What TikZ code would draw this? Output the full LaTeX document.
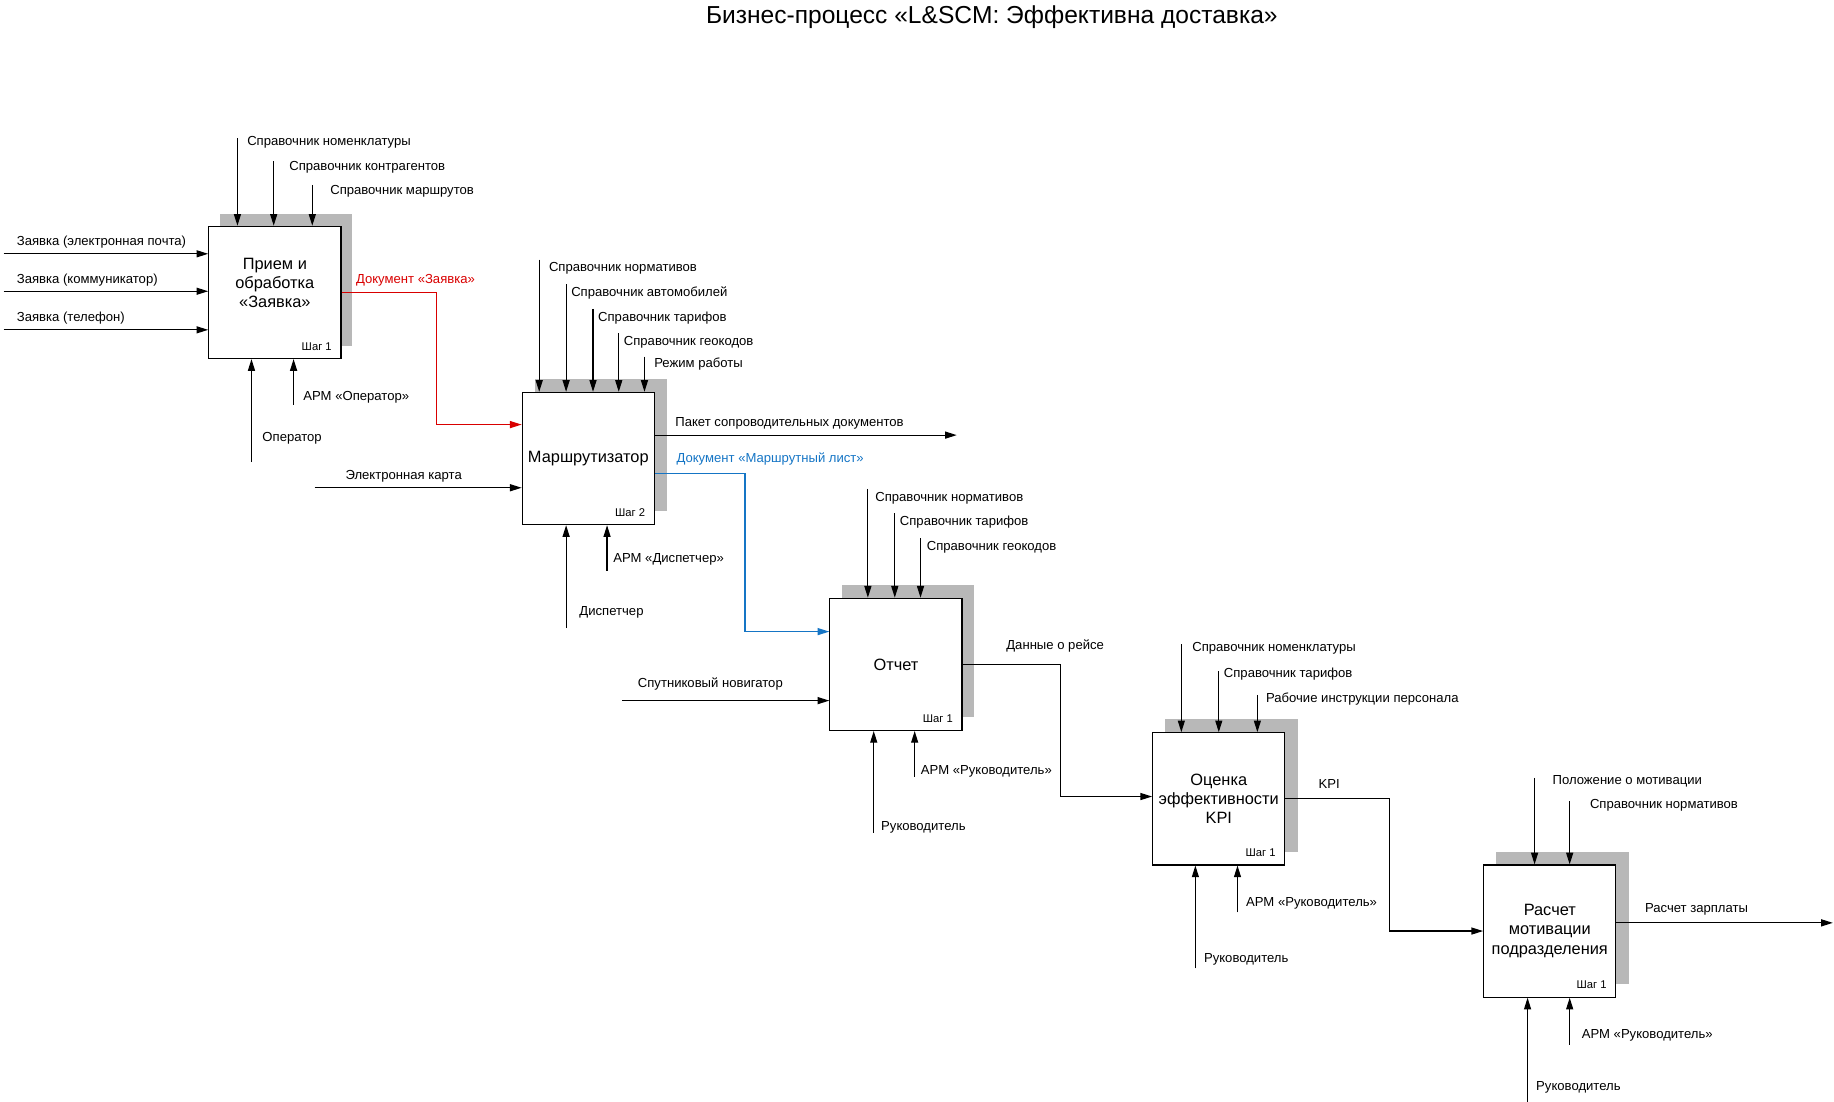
\documentclass[tikz,border=0pt]{standalone}
\usepackage{fontspec}
\setmainfont{Liberation Sans}
\usetikzlibrary{arrows.meta}
\begin{document}
\begin{tikzpicture}[x=0.5pt,y=-0.5pt,
  lbl/.style={font=\fontsize{5.6}{6.5}\selectfont,anchor=west,inner sep=0pt,yshift=-0.8pt},
  box/.style={draw,fill=white,line width=0.5pt,minimum width=56.5pt,minimum height=56.5pt,inner sep=0pt,anchor=north west,align=center,font=\fontsize{7}{8.2}\selectfont},
  shd/.style={fill=black!28,draw=none},
  arr/.style={line width=0.5pt,-{Triangle[length=5pt,width=3pt]}},
  stp/.style={font=\fontsize{4.8}{5}\selectfont,anchor=south east,inner xsep=4pt,inner ysep=3.5pt}]
\useasboundingbox (0,0) rectangle (1568,942);
\node[font=\fontsize{10.5}{12}\selectfont] (title) at (848,15) {Бизнес-процесс «L\&SCM: Эффективна доставка»};

% shadows
\fill[shd] (188,183) rectangle (301,296);
\fill[shd] (457,324) rectangle (570,437);
\fill[shd] (720,500) rectangle (833,613);
\fill[shd] (996,615) rectangle (1110,728);
\fill[shd] (1279,728) rectangle (1393,841);

% boxes
\node[box] (b1) at (178,193) {Прием и\\обработка\\«Заявка»\\[0pt]\mbox{}};
\node[stp] at (b1.south east) {Шаг 1};
\node[box] (b2) at (446,335) {Маршрутизатор};
\node[stp] at (b2.south east) {Шаг 2};
\node[box] (b3) at (709,511) {Отчет};
\node[stp] at (b3.south east) {Шаг 1};
\node[box] (b4) at (985,626) {Оценка\\эффективности\\KPI};
\node[stp] at (b4.south east) {Шаг 1};
\node[box] (b5) at (1268,739) {Расчет\\мотивации\\подразделения};
\node[stp] at (b5.south east) {Шаг 1};

% box 1
\coordinate (c11) at (203,118); \coordinate (c12) at (234,138); \coordinate (c13) at (267,158);
\draw[arr] (c11) -- (c11 |- b1.north);
\draw[arr] (c12) -- (c12 |- b1.north);
\draw[arr] (c13) -- (c13 |- b1.north);
\node[lbl] (t11) at (211,120) {Справочник номенклатуры};
\node[lbl] (t12) at (247,141) {Справочник контрагентов};
\node[lbl] (t13) at (282,162) {Справочник маршрутов};
\coordinate (i11) at (3,217); \coordinate (i12) at (3,249); \coordinate (i13) at (3,282);
\draw[arr] (i11) -- (i11 -| b1.west);
\draw[arr] (i12) -- (i12 -| b1.west);
\draw[arr] (i13) -- (i13 -| b1.west);
\node[lbl] (ti11) at (14,205) {Заявка (электронная почта)};
\node[lbl] (ti12) at (14,238) {Заявка (коммуникатор)};
\node[lbl] (ti13) at (14,270) {Заявка (телефон)};
\coordinate (m11) at (215,395); \coordinate (m12) at (251,346);
\draw[arr] (m11) -- (m11 |- b1.south);
\draw[arr] (m12) -- (m12 |- b1.south);
\node[lbl] (tm11) at (224,373) {Оператор};
\node[lbl] (tm12) at (259,338) {АРМ «Оператор»};
\draw[arr,red!85!black] (b1.east |- 0,250) -- (373,250) -- (373,363) -- (b2.west |- 0,363);
\node[lbl,text=red!85!black] (tr) at (304,238) {Документ «Заявка»};

% box 2
\foreach \x/\y in {461/222,484/243,507/264,529/285,551/305}
  \draw[arr] (\x,\y) -- (\x,335);
\node[lbl] at (469,228) {Справочник нормативов};
\node[lbl] at (488,249) {Справочник автомобилей};
\node[lbl] at (511,270) {Справочник тарифов};
\node[lbl] at (533,291) {Справочник геокодов};
\node[lbl] at (559,310) {Режим работы};
\coordinate (o21) at (818,372);
\draw[arr] (o21 -| b2.east) -- (o21);
\node[lbl] at (577,360) {Пакет сопроводительных документов};
\draw[arr,cyan!55!blue] (b2.east |- 0,405) -- (637,405) -- (637,540) -- (b3.west |- 0,540);
\node[lbl,text=cyan!55!blue] at (578,391) {Документ «Маршрутный лист»};
\coordinate (i21) at (269,417);
\draw[arr] (i21) -- (i21 -| b2.west);
\node[lbl] at (295,406) {Электронная карта};
\coordinate (m21) at (484,537); \coordinate (m22) at (519,488);
\draw[arr] (m21) -- (m21 |- b2.south);
\draw[arr] (m22) -- (m22 |- b2.south);
\node[lbl] at (495,522) {Диспетчер};
\node[lbl] at (524,477) {АРМ «Диспетчер»};

% box 3
\foreach \x/\y in {742/418,765/439,787/460}
  \draw[arr] (\x,\y) -- (\x,511);
\node[lbl] at (748,424) {Справочник нормативов};
\node[lbl] at (769,445) {Справочник тарифов};
\node[lbl] at (792,466) {Справочник геокодов};
\coordinate (i31) at (532,599);
\draw[arr] (i31) -- (i31 -| b3.west);
\node[lbl] at (545,583) {Спутниковый новигатор};
\draw[arr] (b3.east |- 0,568) -- (907,568) -- (907,681) -- (b4.west |- 0,681);
\node[lbl] at (860,551) {Данные о рейсе};
\coordinate (m31) at (747,712); \coordinate (m32) at (782,664);
\draw[arr] (m31) -- (m31 |- b3.south);
\draw[arr] (m32) -- (m32 |- b3.south);
\node[lbl] at (753,706) {Руководитель};
\node[lbl] at (787,658) {АРМ «Руководитель»};

% box 4
\foreach \x/\y in {1010/551,1042/574,1075/594}
  \draw[arr] (\x,\y) -- (\x,626);
\node[lbl] at (1019,553) {Справочник номенклатуры};
\node[lbl] at (1046,575) {Справочник тарифов};
\node[lbl] at (1082,596) {Рабочие инструкции персонала};
\draw[arr] (b4.east |- 0,683) -- (1188,683) -- (1188,796) -- (b5.west |- 0,796);
\node[lbl] at (1127,669) {KPI};
\coordinate (m41) at (1022,828); \coordinate (m42) at (1058,780);
\draw[arr] (m41) -- (m41 |- b4.south);
\draw[arr] (m42) -- (m42 |- b4.south);
\node[lbl] at (1029,819) {Руководитель};
\node[lbl] at (1065,771) {АРМ «Руководитель»};

% box 5
\foreach \x/\y in {1312/665,1342/685}
  \draw[arr] (\x,\y) -- (\x,739);
\node[lbl] at (1327,666) {Положение о мотивации};
\node[lbl] at (1359,687) {Справочник нормативов};
\coordinate (o51) at (1567,789);
\draw[arr] (o51 -| b5.east) -- (o51);
\node[lbl] at (1406,776) {Расчет зарплаты};
\coordinate (m51) at (1306,942); \coordinate (m52) at (1342,893);
\draw[arr] (m51) -- (m51 |- b5.south);
\draw[arr] (m52) -- (m52 |- b5.south);
\node[lbl] at (1313,928) {Руководитель};
\node[lbl] at (1352,884) {АРМ «Руководитель»};
\end{tikzpicture}
\end{document}
